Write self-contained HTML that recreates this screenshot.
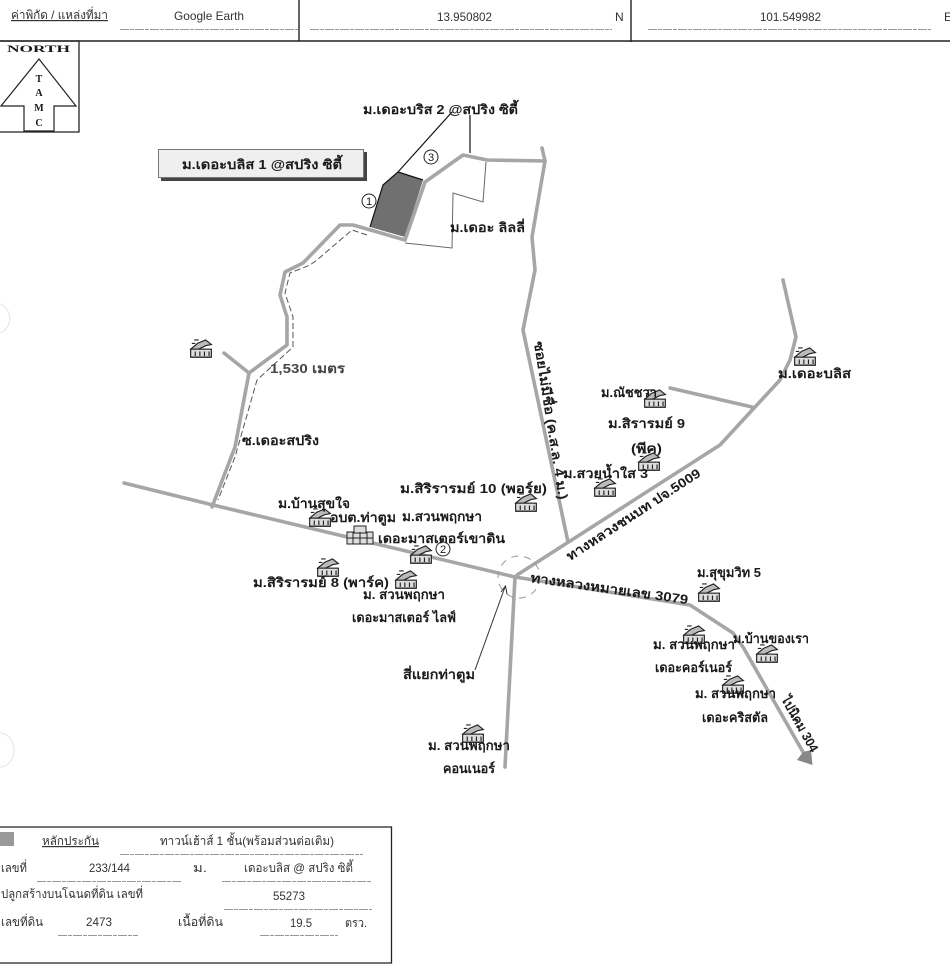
<!DOCTYPE html>
<html><head><meta charset="utf-8"><style>
html,body{margin:0;padding:0;background:#fff;width:950px;height:968px;overflow:hidden}
svg{display:block;filter:blur(.35px)}
text{font-family:"Liberation Sans","Noto Sans CJK SC",sans-serif;fill:#1a1a1a}
.l text,text.b{font-weight:bold;font-size:13px}
.t text{font-size:12px;fill:#333}
.r{fill:none;stroke:#a6a6a6;stroke-width:3.6;stroke-linejoin:round;stroke-linecap:round}
.u{stroke:#999;stroke-width:1;stroke-dasharray:9 1 4 1}
</style></head><body>
<svg width="950" height="968" viewBox="0 0 950 968" xmlns="http://www.w3.org/2000/svg">
<defs>
<g id="h" transform="scale(1.15)"><path d="M-9 1 L-3 -4 L4 -7 L9 -3 L4 -2 L-4 2Z" fill="#bbb" stroke="#222"/><rect x="-9" y="1" width="18" height="7" fill="#ddd" stroke="#222"/><path d="M-6 -7h4M-8 -4h3M-5 3v4M-1 3v4M3 3v4M7 3v4M-9 8h18" stroke="#222" fill="none"/></g>
</defs>
<path d="M0 41H950M299 0V41M631 0V42" stroke="#222" stroke-width="1.4" fill="none"/>
<path class="u" d="M120 29.500H298M310 29.500H612M648 29.500H931"/>
<g class="t">
<text x="11" y="19" textLength="97" lengthAdjust="spacingAndGlyphs" text-decoration="underline">ค่าพิกัด / แหล่งที่มา</text>
<text x="174" y="20" textLength="70" lengthAdjust="spacingAndGlyphs">Google Earth</text>
<text x="437" y="21" textLength="55" lengthAdjust="spacingAndGlyphs">13.950802</text>
<text x="615" y="21">N</text>
<text x="760" y="21" textLength="61" lengthAdjust="spacingAndGlyphs">101.549982</text>
<text x="944" y="21">E</text>
</g>
<path d="M0 41H79V132H0" fill="none" stroke="#222" stroke-width="1.3"/>
<path d="M39 59L76 106H54V131H24V106H1Z" fill="#fff" stroke="#222" stroke-width="1.2"/>
<g font-weight="bold">
<text x="7" y="52" textLength="63" font-size="9" style="font-family:'Liberation Serif',serif" lengthAdjust="spacingAndGlyphs">NORTH</text>
<text x="39" y="82" text-anchor="middle" font-size="10" style="font-family:'Liberation Serif',serif">T</text>
<text x="39" y="96" text-anchor="middle" font-size="10" style="font-family:'Liberation Serif',serif">A</text>
<text x="39" y="111" text-anchor="middle" font-size="10" style="font-family:'Liberation Serif',serif">M</text>
<text x="39" y="126" text-anchor="middle" font-size="10" style="font-family:'Liberation Serif',serif">C</text>
</g>
<rect x="161" y="152" width="206" height="29" fill="#444"/>
<rect x="158.500" y="149.500" width="205" height="28" fill="#efefef" stroke="#777"/>
<path d="M383 185L398 172L423 180L405 237L370 227Z" fill="#707070"/>
<path d="M370 227L383 185L398 172L452 112M398 172L423 180M470 115V153" fill="none" stroke="#111" stroke-width="1.2"/>
<path d="M486 162L483 202L453 193L452 248L405 243" fill="none" stroke="#666" stroke-width="1"/>
<g class="r">
<path d="M124 483L213 505L515 577L690 605L733 633L743 647L803 752"/>
<path d="M515 577L505 767"/>
<path d="M517 575L720 445L755 407L780 380L790 360L796 337L783 280"/>
<path d="M670 388L752 407"/>
<path d="M568 542L523 330L535 270L532 237L545 161L542 148"/>
<path d="M545 161L487 160L463 155L425 182L405 240L353 225L340 225L303 263L285 272L280 295L287 317L287 345L249 373L224 353"/>
<path d="M249 373L235 447L212 507"/>
</g>
<path d="M797 760L812.500 765L811 750L803 752Z" fill="#888"/>
<path d="M367 235L352 230L317 260L310 265L290 273L285 293L293 317L293 347L257 380L235 457L218 500" fill="none" stroke="#555" stroke-width="1" stroke-dasharray="6 3"/>
<circle cx="519" cy="577" r="21" fill="none" stroke="#999" stroke-width="1" stroke-dasharray="7 6"/>
<path d="M475 670L505 587M501 592L505.500 586L507 594" fill="none" stroke="#333" stroke-width="1"/>
<path d="M0 304A13 15 0 0 1 0 333M0 733A14 17 0 0 1 0 767" fill="none" stroke="#e4e4e4"/>
<use href="#h" x="201" y="348"/><use href="#h" x="805" y="356"/><use href="#h" x="655" y="398"/>
<use href="#h" x="649" y="461"/><use href="#h" x="605" y="487"/><use href="#h" x="526" y="502"/>
<use href="#h" x="320" y="517"/><use href="#h" x="421" y="554"/><use href="#h" x="328" y="567"/>
<use href="#h" x="406" y="579"/><use href="#h" x="709" y="592"/><use href="#h" x="694" y="634"/>
<use href="#h" x="767" y="653"/><use href="#h" x="733" y="684"/><use href="#h" x="473" y="733"/>
<g fill="#ddd" stroke="#222"><rect x="347" y="532" width="26" height="12"/><rect x="354" y="526" width="12" height="7"/><path d="M347 538H373M353 532V544M360 532V544M367 532V544" fill="none"/></g>
<g fill="none" stroke="#222"><circle cx="369" cy="201" r="7"/><circle cx="431" cy="157" r="7"/><circle cx="443" cy="549" r="7"/></g>
<g font-size="11" text-anchor="middle"><text x="369" y="205">1</text><text x="431" y="161">3</text><text x="443" y="553">2</text></g>
<g class="l">
<text x="363" y="114" textLength="155" lengthAdjust="spacingAndGlyphs">ม.เดอะบริส 2 @สปริง ซิตี้</text>
<text x="182" y="169" textLength="160" lengthAdjust="spacingAndGlyphs">ม.เดอะบลิส 1 @สปริง ซิตี้</text>
<text x="450" y="232" textLength="75" lengthAdjust="spacingAndGlyphs">ม.เดอะ ลิลลี่</text>
<text x="270" y="373" textLength="75" lengthAdjust="spacingAndGlyphs" style="fill:#444">1,530 เมตร</text>
<text x="242" y="445" textLength="77" lengthAdjust="spacingAndGlyphs">ซ.เดอะสปริง</text>
<text x="400" y="493" textLength="147" lengthAdjust="spacingAndGlyphs">ม.สิริรารมย์ 10 (พอร์ย)</text>
<text x="278" y="508" textLength="72" lengthAdjust="spacingAndGlyphs">ม.บ้านสุขใจ</text>
<text x="330" y="522" textLength="66" lengthAdjust="spacingAndGlyphs">อบต.ท่าตูม</text>
<text x="402" y="521" textLength="80" lengthAdjust="spacingAndGlyphs">ม.สวนพฤกษา</text>
<text x="378" y="543" textLength="127" lengthAdjust="spacingAndGlyphs">เดอะมาสเตอร์เขาดิน</text>
<text x="253" y="587" textLength="136" lengthAdjust="spacingAndGlyphs">ม.สิริรารมย์ 8 (พาร์ค)</text>
<text x="363" y="599" textLength="82" lengthAdjust="spacingAndGlyphs">ม. สวนพฤกษา</text>
<text x="352" y="622" textLength="104" lengthAdjust="spacingAndGlyphs">เดอะมาสเตอร์ ไลฟ์</text>
<text x="403" y="679" textLength="72" lengthAdjust="spacingAndGlyphs">สี่แยกท่าตูม</text>
<text x="428" y="750" textLength="82" lengthAdjust="spacingAndGlyphs">ม. สวนพฤกษา</text>
<text x="443" y="773" textLength="52" lengthAdjust="spacingAndGlyphs">คอนเนอร์</text>
<text x="653" y="649" textLength="82" lengthAdjust="spacingAndGlyphs">ม. สวนพฤกษา</text>
<text x="655" y="672" textLength="77" lengthAdjust="spacingAndGlyphs">เดอะคอร์เนอร์</text>
<text x="733" y="643" textLength="76" lengthAdjust="spacingAndGlyphs">ม.บ้านของเรา</text>
<text x="695" y="698" textLength="81" lengthAdjust="spacingAndGlyphs">ม. สวนพฤกษา</text>
<text x="702" y="722" textLength="66" lengthAdjust="spacingAndGlyphs">เดอะคริสตัล</text>
<text x="601" y="397" textLength="56" lengthAdjust="spacingAndGlyphs">ม.ณัชชวา</text>
<text x="608" y="428" textLength="77" lengthAdjust="spacingAndGlyphs">ม.สิรารมย์ 9</text>
<text x="631" y="453" textLength="31" lengthAdjust="spacingAndGlyphs">(พีค)</text>
<text x="563" y="478" textLength="85" lengthAdjust="spacingAndGlyphs">ม.สวยน้ำใส 3</text>
<text x="778" y="378" textLength="73" lengthAdjust="spacingAndGlyphs">ม.เดอะบลิส</text>
<text x="697" y="577" textLength="64" lengthAdjust="spacingAndGlyphs">ม.สุขุมวิท 5</text>
<text transform="translate(530 582) rotate(8)" textLength="159" lengthAdjust="spacingAndGlyphs">ทางหลวงหมายเลข 3079</text>
<text transform="translate(570 561) rotate(-33)" textLength="157" lengthAdjust="spacingAndGlyphs">ทางหลวงชนบท ปจ.5009</text>
<text transform="translate(534 342) rotate(81)" textLength="160" lengthAdjust="spacingAndGlyphs">ซอยไม่มีชื่อ (ค.ส.ล. 4 ม.)</text>
<text transform="translate(781 699) rotate(61)" textLength="62" lengthAdjust="spacingAndGlyphs" font-size="11">ไปนิคม 304</text>
</g>
<path d="M0 827H391.500V963H0" fill="none" stroke="#222" stroke-width="1.3"/>
<rect x="0" y="832" width="14" height="14" fill="#999"/>
<path class="u" d="M120 854.500H363M37 881.500H182M222 881.500H372M224 909.500H372M58 935.500H138M260 935.500H338"/>
<g class="t">
<text x="42" y="845" textLength="57" lengthAdjust="spacingAndGlyphs" text-decoration="underline">หลักประกัน</text>
<text x="160" y="845" textLength="174" lengthAdjust="spacingAndGlyphs">ทาวน์เฮ้าส์ 1 ชั้น(พร้อมส่วนต่อเติม)</text>
<text x="1" y="872" textLength="26" lengthAdjust="spacingAndGlyphs">เลขที่</text>
<text x="89" y="872" textLength="41" lengthAdjust="spacingAndGlyphs">233/144</text>
<text x="193" y="872" textLength="14" lengthAdjust="spacingAndGlyphs">ม.</text>
<text x="244" y="872" textLength="109" lengthAdjust="spacingAndGlyphs">เดอะบลิส @ สปริง ซิตี้</text>
<text x="1" y="898" textLength="142" lengthAdjust="spacingAndGlyphs">ปลูกสร้างบนโฉนดที่ดิน เลขที่</text>
<text x="273" y="900" textLength="32" lengthAdjust="spacingAndGlyphs">55273</text>
<text x="1" y="926" textLength="42" lengthAdjust="spacingAndGlyphs">เลขที่ดิน</text>
<text x="86" y="926" textLength="26" lengthAdjust="spacingAndGlyphs">2473</text>
<text x="178" y="926" textLength="45" lengthAdjust="spacingAndGlyphs">เนื้อที่ดิน</text>
<text x="290" y="927" textLength="22" lengthAdjust="spacingAndGlyphs">19.5</text>
<text x="345" y="927" textLength="22" lengthAdjust="spacingAndGlyphs">ตรว.</text>
</g>
</svg>
</body></html>
